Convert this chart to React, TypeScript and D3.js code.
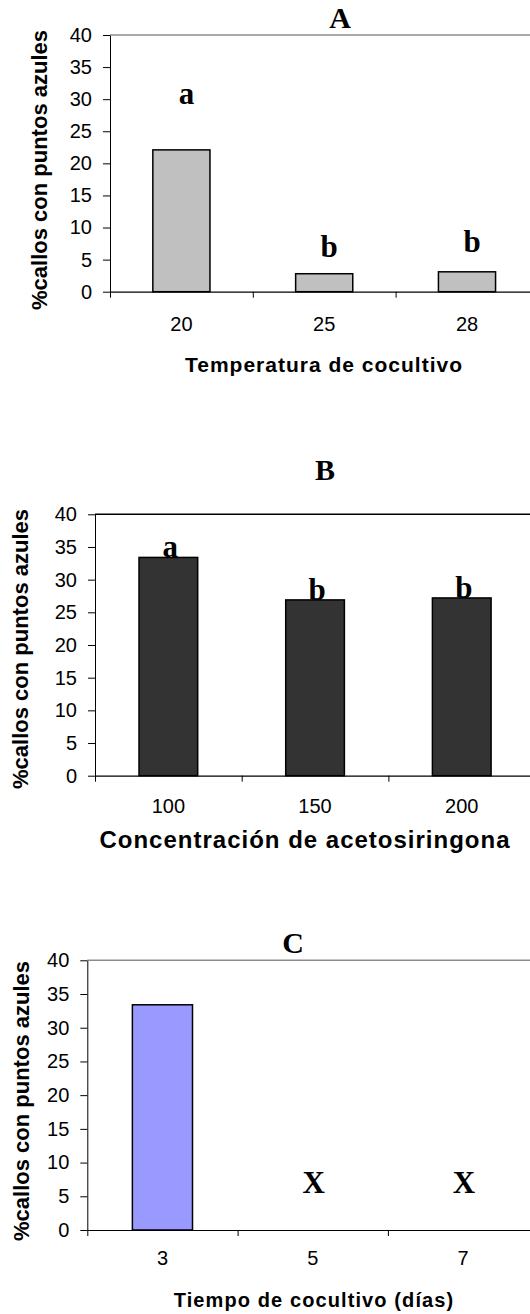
import React, { useRef, useEffect } from 'react';
import * as d3 from 'd3';

const yTicks = [0, 5, 10, 15, 20, 25, 30, 35, 40];
const yTitle = '%callos con puntos azules';

// A - temperatura
const tempCategories = ['20', '25', '28'];
const tempValues = [22.1, 2.8, 3.1];
const tempLetters = ['a', 'b', 'b'];
const tempLetterAt = [29.3, 5.4, 6.2];

// B - acetosiringona
const acetoCategories = ['100', '150', '200'];
const acetoValues = [33.4, 26.9, 27.2];
const acetoLetters = ['a', 'b', 'b'];
const acetoLetterAt = [33.4, 26.9, 27.2];

// C - tiempo (5 y 7 dias sin datos)
const timeCategories = ['3', '5', '7'];
const timeValues = [33.4, null, null];
const timeLetters = ['', 'X', 'X'];
const timeLetterAt = [0, 5.5, 5.5];

const SANS = '"Liberation Sans", Arial, sans-serif';
const SERIF = '"Liberation Serif", "Times New Roman", serif';

const panels = [
  {
    categories: tempCategories, values: tempValues, letters: tempLetters, letterAt: tempLetterAt,
    title: 'A', xTitle: 'Temperatura de cocultivo',
    left: 110, step: 142.8, top: 35, bottom: 291.7,
    fill: '#c0c0c0', frame: '#8c8c8c',
    titleX: 340, titleY: 28, letterDx: 5,
    xTitleX: 324, xTitleY: 371.7, xTitleSize: 21, xTitleSpacing: 1,
    yTitleX: 47, yTitleY: 170, tickLabelDy: 39,
  },
  {
    categories: acetoCategories, values: acetoValues, letters: acetoLetters, letterAt: acetoLetterAt,
    title: 'B', xTitle: 'Concentración de acetosiringona',
    left: 95, step: 146.7, top: 514.3, bottom: 775.7,
    fill: '#333333', frame: '#000000',
    titleX: 325, titleY: 480, letterDx: 2,
    xTitleX: 305, xTitleY: 848.3, xTitleSize: 24, xTitleSpacing: 1,
    yTitleX: 27.5, yTitleY: 649, tickLabelDy: 37.6,
  },
  {
    categories: timeCategories, values: timeValues, letters: timeLetters, letterAt: timeLetterAt,
    title: 'C', xTitle: 'Tiempo de cocultivo (días)',
    left: 87.3, step: 150.3, top: 960.3, bottom: 1230,
    fill: '#9999ff', frame: '#8c8c8c',
    titleX: 293, titleY: 953.3, letterDx: 1,
    xTitleX: 314, xTitleY: 1306.7, xTitleSize: 20, xTitleSpacing: 1.1,
    yTitleX: 29.2, yTitleY: 1101, tickLabelDy: 35,
  },
];

function drawPanel(svg, p) {
  const g = svg.append('g');
  const right = p.left + p.step * p.categories.length;

  const x = d3.scaleBand()
    .domain(p.categories)
    .range([p.left, right])
    .paddingInner(0.6)
    .paddingOuter(0.3);

  const xEdge = d3.scalePoint()
    .domain(d3.range(p.categories.length + 1))
    .range([p.left, right]);

  const y = d3.scaleLinear().domain([0, 40]).range([p.bottom, p.top]);

  // top frame line
  g.append('line')
    .attr('x1', p.left).attr('x2', right + 20)
    .attr('y1', y(40)).attr('y2', y(40))
    .attr('stroke', p.frame)
    .attr('stroke-width', 1.5);

  // y axis
  const ya = g.append('g')
    .attr('transform', `translate(${p.left},0)`)
    .call(d3.axisLeft(y).tickValues(yTicks).tickSize(7).tickPadding(11).tickSizeOuter(0));
  ya.select('.domain').attr('stroke', '#000');
  ya.selectAll('.tick line').attr('stroke', '#000');
  ya.selectAll('text')
    .attr('fill', '#000')
    .style('font-family', SANS)
    .style('font-size', '20px');

  // bars
  g.selectAll('.bar')
    .data(p.categories.map((c, i) => ({ c, v: p.values[i] })).filter(d => d.v != null))
    .enter()
    .append('rect')
    .attr('x', d => x(d.c))
    .attr('y', d => y(d.v))
    .attr('width', x.bandwidth())
    .attr('height', d => y(0) - y(d.v))
    .attr('fill', p.fill)
    .attr('stroke', '#000')
    .attr('stroke-width', 1.5);

  // x axis (ticks between categories)
  const xa = g.append('g')
    .attr('transform', `translate(0,${p.bottom})`)
    .call(d3.axisBottom(xEdge).tickFormat(() => '').tickSize(6).tickSizeOuter(0));
  xa.select('.domain').attr('stroke', '#000').attr('stroke-width', 1.2);
  xa.selectAll('.tick line').attr('stroke', '#000');

  // category labels
  g.selectAll('.cat')
    .data(p.categories)
    .enter()
    .append('text')
    .text(d => d)
    .attr('x', d => x(d) + x.bandwidth() / 2)
    .attr('y', p.bottom + p.tickLabelDy)
    .attr('text-anchor', 'middle')
    .attr('fill', '#000')
    .style('font-family', SANS)
    .style('font-size', '20px');

  // significance letters
  g.selectAll('.letter')
    .data(p.categories.map((c, i) => ({ c, t: p.letters[i], at: p.letterAt[i] })).filter(d => d.t))
    .enter()
    .append('text')
    .text(d => d.t)
    .attr('x', d => x(d.c) + x.bandwidth() / 2 + p.letterDx)
    .attr('y', d => y(d.at))
    .attr('text-anchor', 'middle')
    .attr('fill', '#000')
    .style('font-family', SERIF)
    .style('font-weight', '700')
    .style('font-size', '31px');

  // panel title
  g.append('text')
    .text(p.title)
    .attr('x', p.titleX)
    .attr('y', p.titleY)
    .attr('text-anchor', 'middle')
    .style('font-family', SERIF)
    .style('font-weight', '700')
    .style('font-size', '30px');

  // x title
  g.append('text')
    .text(p.xTitle)
    .attr('x', p.xTitleX)
    .attr('y', p.xTitleY)
    .attr('text-anchor', 'middle')
    .style('font-family', SANS)
    .style('font-weight', '700')
    .style('font-size', `${p.xTitleSize}px`)
    .style('letter-spacing', `${p.xTitleSpacing}px`);

  // y title
  g.append('text')
    .text(yTitle)
    .attr('transform', `translate(${p.yTitleX},${p.yTitleY}) rotate(-90)`)
    .attr('text-anchor', 'middle')
    .style('font-family', SANS)
    .style('font-weight', '700')
    .style('font-size', '22px');
}

export default function App() {
  const ref = useRef(null);

  useEffect(() => {
    const svg = d3.select(ref.current);
    svg.selectAll('*').remove();
    panels.forEach(p => drawPanel(svg, p));
  }, []);

  return (
    <svg
      ref={ref}
      width={530}
      height={1314}
      style={{ position: 'absolute', left: 0, top: 0, background: '#fff', overflow: 'hidden' }}
    />
  );
}
